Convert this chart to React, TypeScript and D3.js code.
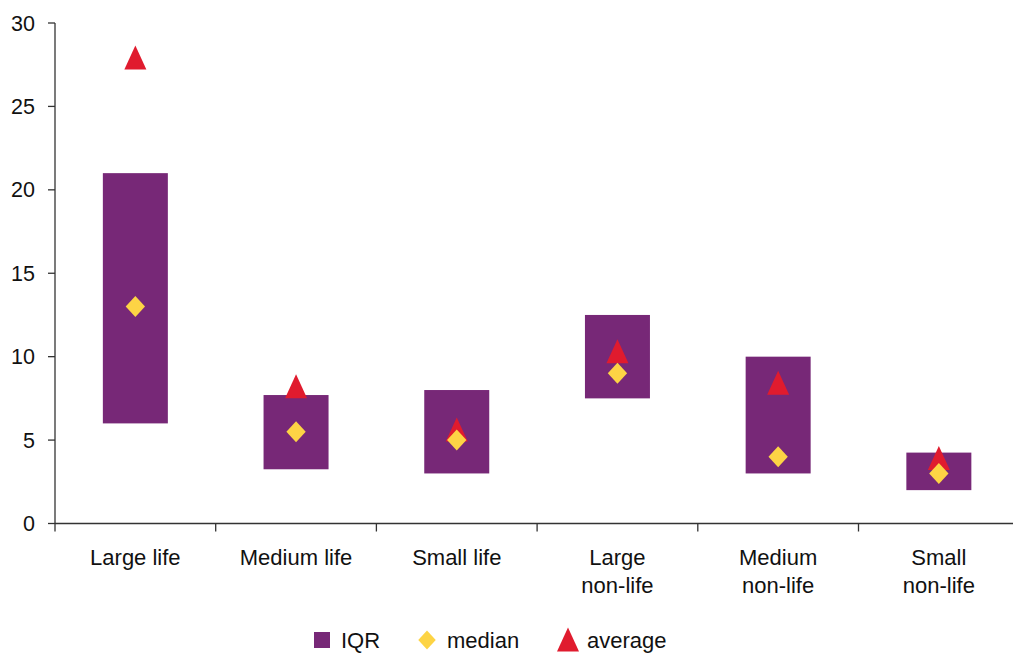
import React from "react";
import * as d3 from "d3";

const categories: string[][] = [
  ["Large life"],
  ["Medium life"],
  ["Small life"],
  ["Large", "non-life"],
  ["Medium", "non-life"],
  ["Small", "non-life"],
];
const iqrLow = [6, 3.25, 3, 7.5, 3, 2];
const iqrHigh = [21, 7.7, 8, 12.5, 10, 4.25];
const medianVals = [13, 5.5, 5, 9, 4, 3];
const averageVals = [27.9, 8.2, 5.6, 10.3, 8.4, 3.9];
const yTicks = [0, 5, 10, 15, 20, 25, 30];

const W = 1013;
const H = 653;
const PURPLE = "#772877";
const YELLOW = "#FDD445";
const RED = "#E01B2E";
const FONT = "'Liberation Sans', Arial, sans-serif";

export default function App() {
  const x0 = 55;
  const band = 160.7;
  const x = d3
    .scaleBand<number>()
    .domain(categories.map((_, i) => i))
    .range([x0, x0 + band * categories.length])
    .paddingInner(0)
    .paddingOuter(0);
  const y = d3.scaleLinear().domain([0, 30]).range([523.5, 23]);
  const barW = 65;

  const diamondPath = (cx: number, cy: number, r: number) =>
    `M${cx},${cy - r}L${cx + r * 0.92},${cy}L${cx},${cy + r}L${cx - r * 0.92},${cy}Z`;
  const triPath = (cx: number, cy: number) =>
    `M${cx},${cy - 12.5}L${cx + 11},${cy + 11.5}L${cx - 11},${cy + 11.5}Z`;

  return (
    <svg
      width={W}
      height={H}
      style={{ position: "absolute", left: 0, top: 0, background: "#fff" }}
      fontFamily={FONT}
    >
      {categories.map((_, i) => {
        const cx = (x(i) as number) + x.bandwidth() / 2;
        return (
          <rect
            key={"b" + i}
            x={cx - barW / 2}
            y={y(iqrHigh[i])}
            width={barW}
            height={y(iqrLow[i]) - y(iqrHigh[i])}
            fill={PURPLE}
          />
        );
      })}
      {categories.map((_, i) => {
        const cx = (x(i) as number) + x.bandwidth() / 2;
        return <path key={"a" + i} d={triPath(cx, y(averageVals[i]))} fill={RED} />;
      })}
      {categories.map((_, i) => {
        const cx = (x(i) as number) + x.bandwidth() / 2;
        return <path key={"m" + i} d={diamondPath(cx, y(medianVals[i]), 10.5)} fill={YELLOW} />;
      })}

      <line x1={x0} x2={x0} y1={y(30)} y2={y(0)} stroke="#333" strokeWidth={1.3} />
      {yTicks.map((t) => (
        <g key={"yt" + t}>
          <line x1={x0 - 7} x2={x0} y1={y(t)} y2={y(t)} stroke="#333" strokeWidth={1.3} />
          <text x={35} y={y(t) + 7.5} textAnchor="end" fontSize={21.5} fill="#111">
            {t}
          </text>
        </g>
      ))}

      <line x1={x0} x2={W} y1={y(0)} y2={y(0)} stroke="#333" strokeWidth={1.3} />
      {categories.map((_, i) => (
        <line
          key={"xt" + i}
          x1={x(i) as number}
          x2={x(i) as number}
          y1={y(0)}
          y2={y(0) + 8}
          stroke="#333"
          strokeWidth={1.3}
        />
      ))}
      {categories.map((lines, i) => {
        const cx = (x(i) as number) + x.bandwidth() / 2;
        return (
          <text key={"xl" + i} textAnchor="middle" fontSize={22} fill="#111">
            {lines.map((l, j) => (
              <tspan key={j} x={cx} y={565 + j * 28}>
                {l}
              </tspan>
            ))}
          </text>
        );
      })}

      <rect x={314} y={632} width={16} height={16} fill={PURPLE} />
      <text x={341} y={648} fontSize={22} fill="#111">IQR</text>
      <path d={diamondPath(427, 640, 9.5)} fill={YELLOW} />
      <text x={447} y={648} fontSize={22} fill="#111">median</text>
      <path d={triPath(568, 640)} fill={RED} />
      <text x={587} y={648} fontSize={22} fill="#111">average</text>
    </svg>
  );
}
